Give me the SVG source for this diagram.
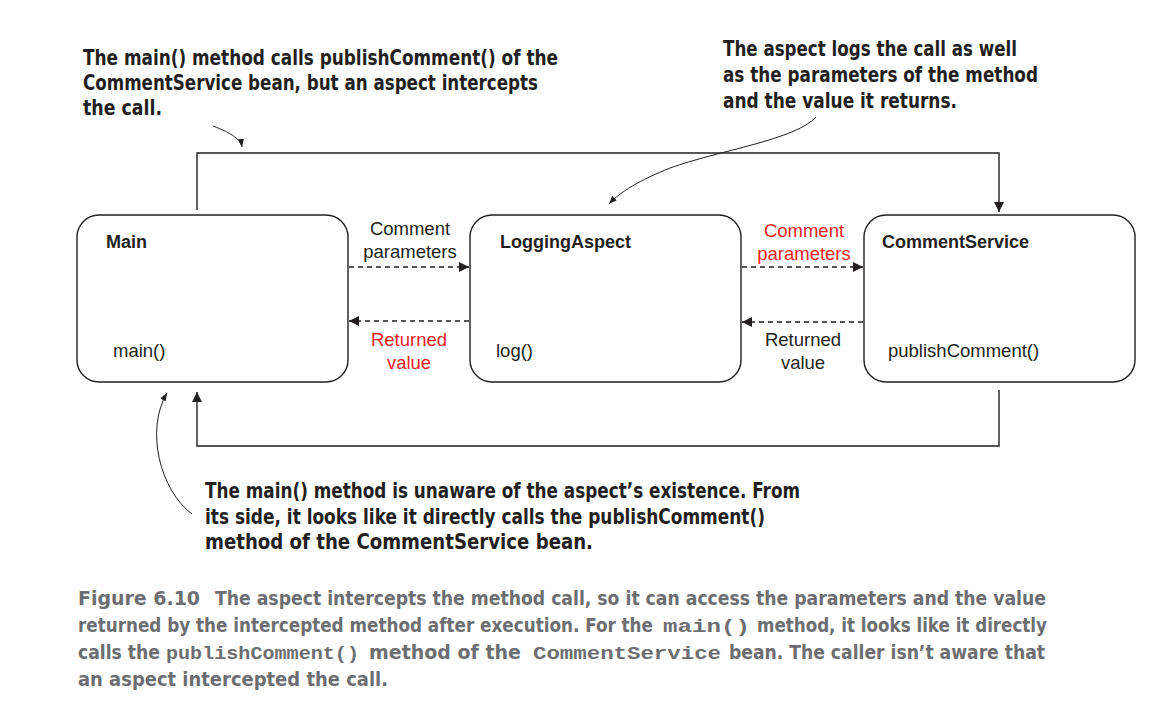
<svg xmlns="http://www.w3.org/2000/svg" width="1154" height="720" viewBox="0 0 1154 720">
<style>
.box{fill:#fff;stroke:#231f20;stroke-width:1.4}
.lbl{font-family:"Liberation Sans",Arial,sans-serif;font-size:18.5px;fill:#231f20}
.red{fill:#ed1c24}
.title{font-family:"Liberation Sans",Arial,sans-serif;font-size:18px;font-weight:bold;fill:#231f20}
.ann{font-family:"Liberation Sans Narrow","DejaVu Sans Condensed",sans-serif;font-stretch:condensed;font-weight:bold;font-size:21px;fill:#231f20}
.cap{font-family:"Liberation Sans Narrow","DejaVu Sans Condensed",sans-serif;font-stretch:condensed;font-weight:bold;font-size:19px;fill:#6d6e71}
.mono{font-family:"Liberation Mono","Courier New",monospace;font-size:19px;font-weight:bold;fill:#6d6e71}
.solid{fill:none;stroke:#231f20;stroke-width:1.4}
.dash{fill:none;stroke:#231f20;stroke-width:1.3;stroke-dasharray:5 4}
.curve{fill:none;stroke:#231f20;stroke-width:1}
</style>
<defs>
<marker id="ah" viewBox="0 0 10 10" refX="10" refY="5" markerWidth="10" markerHeight="10" markerUnits="userSpaceOnUse" orient="auto">
<path d="M0,0 L10,5 L0,10 z" fill="#231f20"/>
</marker>
<marker id="ahs" viewBox="0 0 10 10" refX="10" refY="5" markerWidth="8" markerHeight="8" markerUnits="userSpaceOnUse" orient="auto">
<path d="M0,1 L10,5 L0,9 z" fill="#231f20"/>
</marker>
</defs>
<rect width="1154" height="720" fill="#fff"/>

<g id="connectors">
<path class="solid" d="M197,210 V153 H999 V212" marker-end="url(#ah)"/>
<path class="solid" d="M999,390 V446 H197 V392" marker-end="url(#ah)"/>
<path class="dash" d="M349,267 H469" marker-end="url(#ah)"/>
<path class="dash" d="M469,321 H349" marker-end="url(#ah)"/>
<path class="dash" d="M742,267 H863" marker-end="url(#ah)"/>
<path class="dash" d="M863,322 H742" marker-end="url(#ah)"/>
<text class="lbl" x="410" y="235" text-anchor="middle">Comment</text>
<text class="lbl" x="410" y="258" text-anchor="middle">parameters</text>
<text class="lbl red" x="409" y="346" text-anchor="middle">Returned</text>
<text class="lbl red" x="409" y="369" text-anchor="middle">value</text>
<text class="lbl red" x="804" y="237" text-anchor="middle">Comment</text>
<text class="lbl red" x="804" y="260" text-anchor="middle">parameters</text>
<text class="lbl" x="803" y="346" text-anchor="middle">Returned</text>
<text class="lbl" x="803" y="369" text-anchor="middle">value</text>
</g>

<g id="node-main">
<rect class="box" x="77" y="215" width="271" height="167" rx="22"/>
<text class="title" x="106" y="248">Main</text>
<text class="lbl" x="113" y="357">main()</text>
</g>
<g id="node-logging">
<rect class="box" x="470" y="215" width="271" height="167" rx="22"/>
<text class="title" x="500" y="248">LoggingAspect</text>
<text class="lbl" x="496" y="357">log()</text>
</g>
<g id="node-commentservice">
<rect class="box" x="864" y="215" width="271" height="167" rx="22"/>
<text class="title" x="882" y="248">CommentService</text>
<text class="lbl" x="888" y="357">publishComment()</text>
</g>

<g id="annotation-1">
<text class="ann" x="83" y="65" textLength="475" lengthAdjust="spacingAndGlyphs">The main() method calls publishComment() of the</text>
<text class="ann" x="83" y="90" textLength="455" lengthAdjust="spacingAndGlyphs">CommentService bean, but an aspect intercepts</text>
<text class="ann" x="83" y="115" textLength="79" lengthAdjust="spacingAndGlyphs">the call.</text>
<path class="curve" d="M213,126 C232,133 241,140 242,147" marker-end="url(#ahs)"/>
</g>

<g id="annotation-2">
<text class="ann" x="723" y="56" textLength="294" lengthAdjust="spacingAndGlyphs">The aspect logs the call as well</text>
<text class="ann" x="723" y="82" textLength="315" lengthAdjust="spacingAndGlyphs">as the parameters of the method</text>
<text class="ann" x="723" y="108" textLength="234" lengthAdjust="spacingAndGlyphs">and the value it returns.</text>
<path class="curve" d="M816,117 C795,140 720,150 670,168 C640,180 620,192 609,204" marker-end="url(#ahs)"/>
</g>

<g id="annotation-3">
<text class="ann" x="205" y="498" textLength="595" lengthAdjust="spacingAndGlyphs">The main() method is unaware of the aspect’s existence. From</text>
<text class="ann" x="205" y="524" textLength="560" lengthAdjust="spacingAndGlyphs">its side, it looks like it directly calls the publishComment()</text>
<text class="ann" x="205" y="549" textLength="388" lengthAdjust="spacingAndGlyphs">method of the CommentService bean.</text>
<path class="curve" d="M192,514 C160,490 145,430 167,393" marker-end="url(#ahs)"/>
</g>

<g id="caption">
<text class="cap" x="78" y="605" textLength="122" lengthAdjust="spacingAndGlyphs">Figure 6.10</text>
<text class="cap" x="215" y="605" textLength="831" lengthAdjust="spacingAndGlyphs">The aspect intercepts the method call, so it can access the parameters and the value</text>
<text class="cap" x="78" y="632" textLength="575" lengthAdjust="spacingAndGlyphs">returned by the intercepted method after execution. For the</text>
<text class="mono" x="663" y="632" textLength="87" lengthAdjust="spacingAndGlyphs">main()</text>
<text class="cap" x="757" y="632" textLength="290" lengthAdjust="spacingAndGlyphs">method, it looks like it directly</text>
<text class="cap" x="78" y="659" textLength="82" lengthAdjust="spacingAndGlyphs">calls the</text>
<text class="mono" x="166" y="659" textLength="193" lengthAdjust="spacingAndGlyphs">publishComment()</text>
<text class="cap" x="369" y="659" textLength="152" lengthAdjust="spacingAndGlyphs">method of the</text>
<text class="mono" x="533" y="659" textLength="188" lengthAdjust="spacingAndGlyphs">CommentService</text>
<text class="cap" x="729" y="659" textLength="316" lengthAdjust="spacingAndGlyphs">bean. The caller isn’t aware that</text>
<text class="cap" x="78" y="686" textLength="310" lengthAdjust="spacingAndGlyphs">an aspect intercepted the call.</text>
</g>
</svg>
